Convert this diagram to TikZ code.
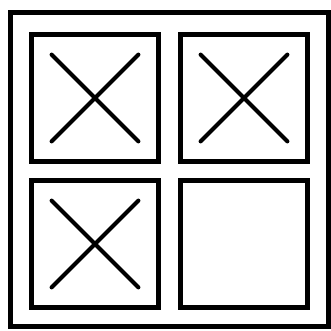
\documentclass[tikz,border=0pt]{standalone}
\usetikzlibrary{positioning}

\begin{document}
\begin{tikzpicture}[
    x=0.03cm, y=-0.03cm,
    cell/.style={draw, line width=4.2pt, minimum width=3.8cm, minimum height=3.8cm, inner sep=0pt, outer sep=0pt},
    frame/.style={draw, line width=4.2pt, minimum width=9.55cm, minimum height=9.4cm, inner sep=0pt, outer sep=0pt},
    cross/.style={line width=3.6pt, line cap=round}
]
    \useasboundingbox (0,0) rectangle (331,330);

    % outer frame
    \node[frame] (box) at (169.5,169.5) {};

    % the four squares
    \node[cell] (tl) at (95,98) {};
    \node[cell] (tr) at (244,98) {};
    \node[cell] (bl) at (95,244) {};
    \node[cell] (br) at (244,244) {};

    % crosses
    \foreach \c in {tl,tr,bl} {
        \draw[cross] ([shift={(0.6cm,-0.6cm)}]\c.north west) -- ([shift={(-0.6cm,0.6cm)}]\c.south east);
        \draw[cross] ([shift={(-0.6cm,-0.6cm)}]\c.north east) -- ([shift={(0.6cm,0.6cm)}]\c.south west);
    }
\end{tikzpicture}
\end{document}
